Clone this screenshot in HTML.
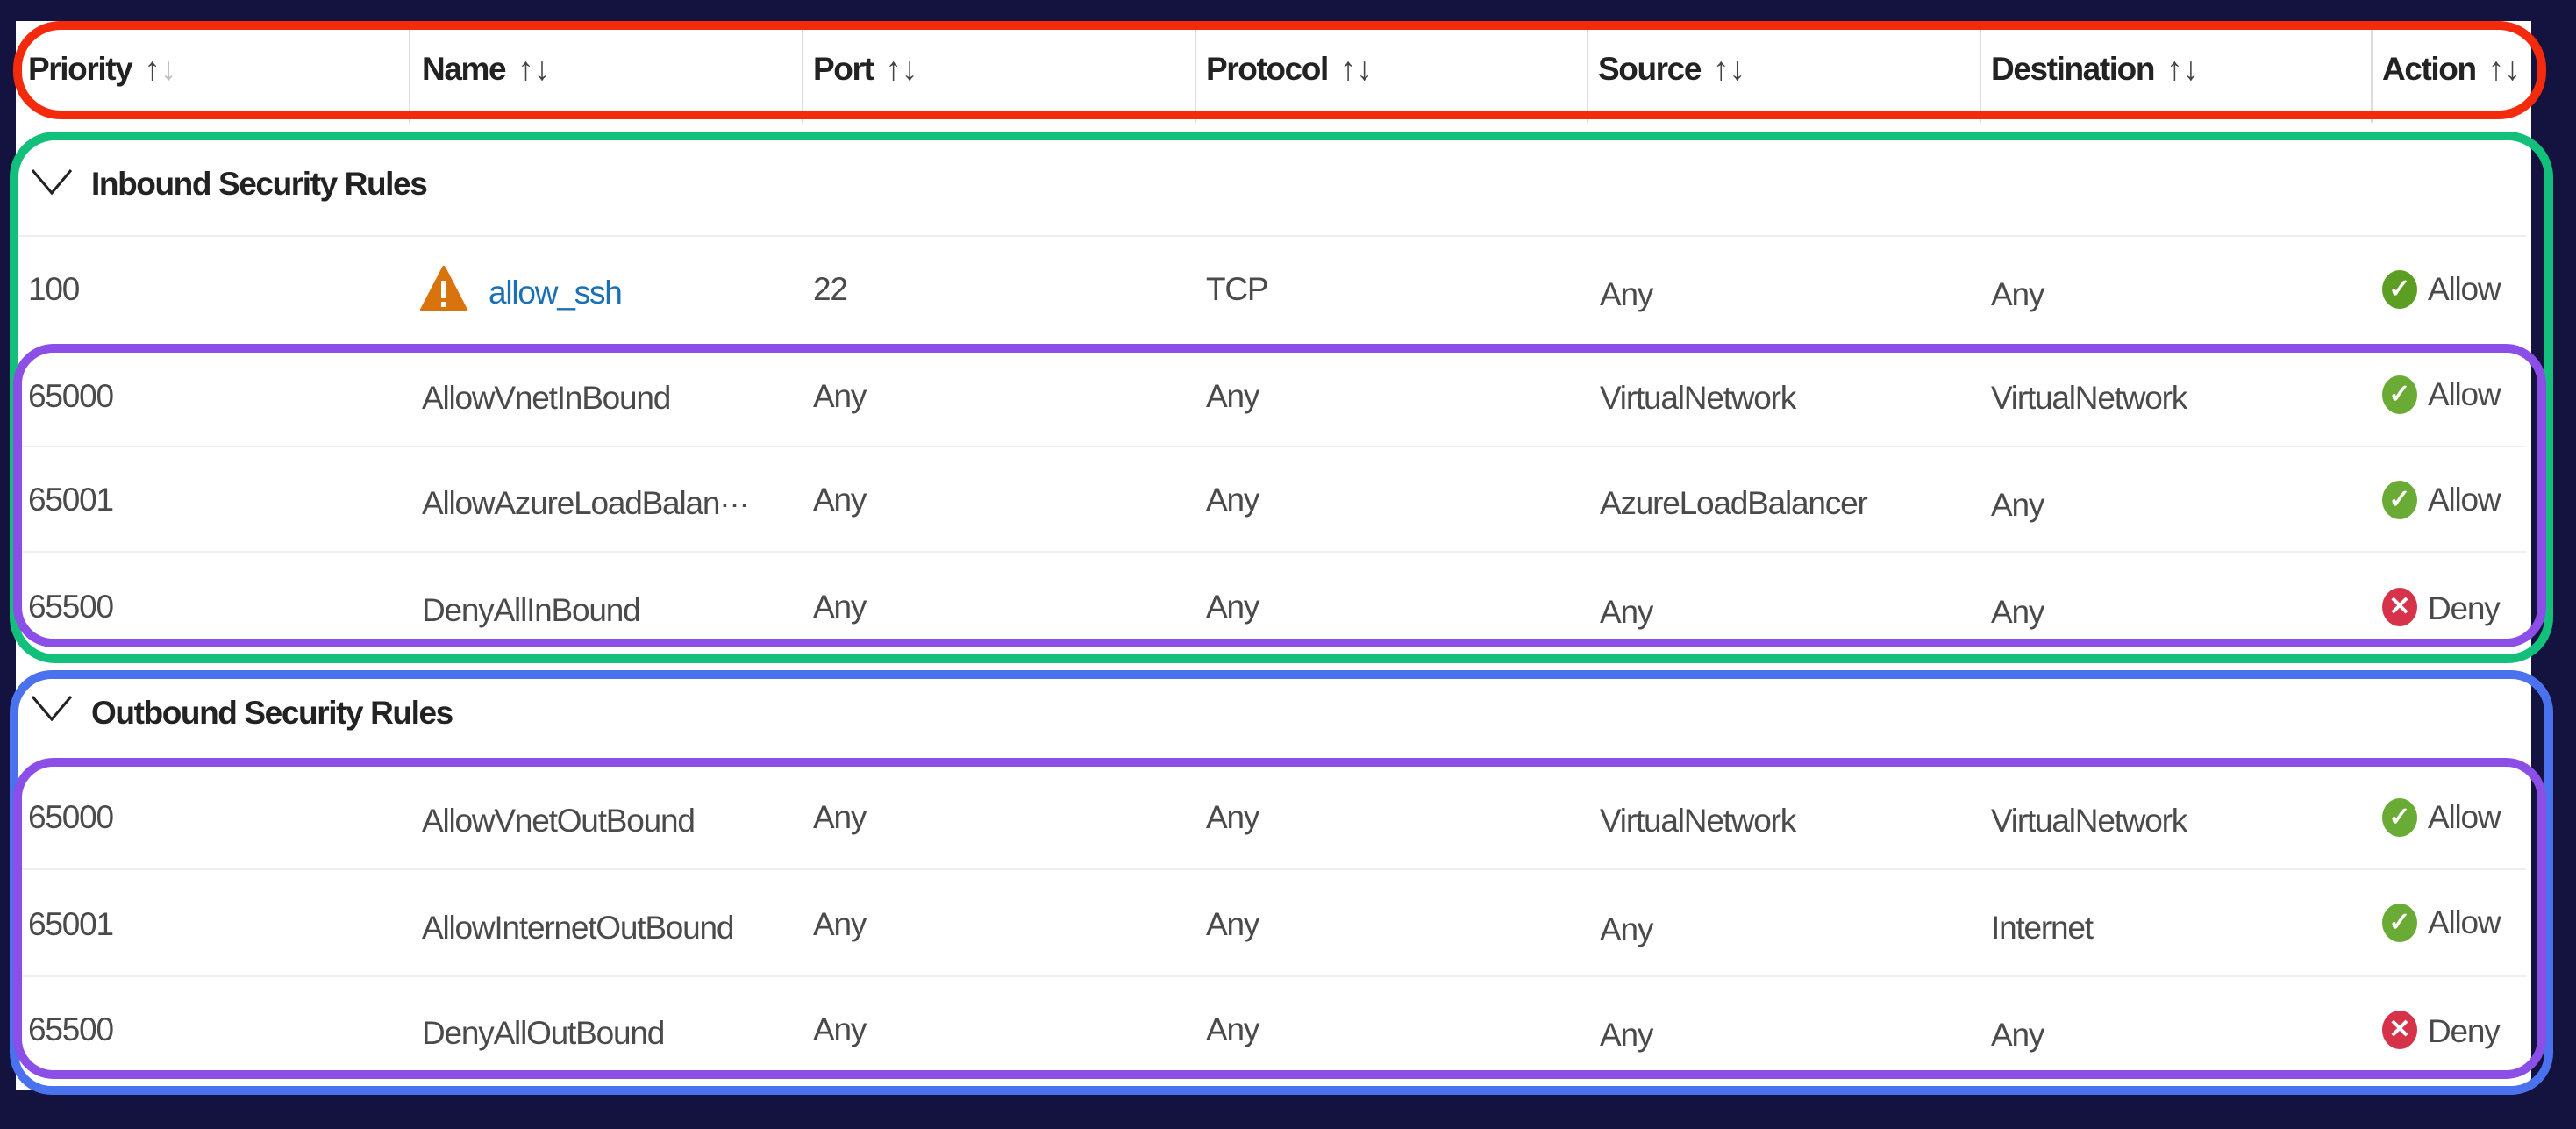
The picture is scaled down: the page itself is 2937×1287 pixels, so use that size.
<!DOCTYPE html>
<html><head><meta charset="utf-8"><style>
html,body{margin:0;padding:0}
body{width:2937px;height:1287px;background:#14123e;position:relative;overflow:hidden;font-family:"Liberation Sans",sans-serif}
.panel{position:absolute;left:18px;top:24px;width:2868px;height:1218px;background:#fff}
.box{position:absolute;box-sizing:border-box;border-style:solid}
.t{position:absolute;transform:translateY(-50%);white-space:nowrap;font-size:37px;color:#4a4a4a;letter-spacing:-1.2px}
.h{font-weight:bold;color:#222;letter-spacing:-1.4px}
.sep{position:absolute;height:2px;background:#eee;left:20px;width:2860px}
.vd{position:absolute;width:2px;background:#ddd;top:30px;height:110px}
.ic{position:absolute;width:40px;height:44px;border-radius:50%;transform:translateY(-50%);color:#fff;font-size:30px;font-weight:bold;text-align:center;line-height:44px}
.ok{background:#5c9e22}.no{background:#d6334a}
.arr{color:#444;font-weight:normal;margin-left:14px;letter-spacing:0}
</style></head><body>
<div class="panel"></div>
<div class="vd" style="left:466px"></div><div class="vd" style="left:914px"></div><div class="vd" style="left:1362px"></div><div class="vd" style="left:1809px"></div><div class="vd" style="left:2257px"></div><div class="vd" style="left:2703px"></div>
<div class="sep" style="top:268px"></div>
<div class="sep" style="top:508px"></div>
<div class="sep" style="top:628px"></div>
<div class="sep" style="top:990px"></div>
<div class="sep" style="top:1112px"></div>

<div class="box" style="left:15px;top:24px;width:2888px;height:112px;border-width:10px;border-color:#f42a0c;border-radius:54px"></div>
<div class="box" style="left:11px;top:150px;width:2900px;height:606px;border-width:10px;border-color:#12c07c;border-radius:52px"></div>
<div class="box" style="left:15px;top:392px;width:2888px;height:346px;border-width:10px;border-color:#8b4fe8;border-radius:46px"></div>
<div class="box" style="left:11px;top:764px;width:2900px;height:484px;border-width:10px;border-color:#4a72ee;border-radius:48px"></div>
<div class="box" style="left:15px;top:864px;width:2888px;height:366px;border-width:10px;border-color:#8b4fe8;border-radius:46px"></div>

<div class="t h" style="left:32px;top:79px">Priority<span class="arr">↑<span style="color:#bbb">↓</span></span></div>
<div class="t h" style="left:481px;top:79px">Name<span class="arr">↑↓</span></div>
<div class="t h" style="left:927px;top:79px">Port<span class="arr">↑↓</span></div>
<div class="t h" style="left:1375px;top:79px">Protocol<span class="arr">↑↓</span></div>
<div class="t h" style="left:1822px;top:79px">Source<span class="arr">↑↓</span></div>
<div class="t h" style="left:2270px;top:79px">Destination<span class="arr">↑↓</span></div>
<div class="t h" style="left:2716px;top:79px">Action<span class="arr">↑↓</span></div>

<svg style="position:absolute;left:34px;top:190px" width="50" height="36"><polyline points="3,4 25,30 47,4" fill="none" stroke="#222" stroke-width="3"/></svg>
<div class="t h" style="left:104px;top:210px">Inbound Security Rules</div>
<svg style="position:absolute;left:34px;top:790px" width="50" height="36"><polyline points="3,4 25,30 47,4" fill="none" stroke="#222" stroke-width="3"/></svg>
<div class="t h" style="left:104px;top:813px">Outbound Security Rules</div>

<div class="t" style="left:32px;top:330px">100</div>
<svg style="position:absolute;left:478px;top:302px" width="56" height="54"><polygon points="28,3 53,51 3,51" fill="#d9730d" stroke="#d9730d" stroke-width="4" stroke-linejoin="round"/><rect x="25" y="18" width="6" height="20" fill="#fff"/><rect x="25" y="42" width="6" height="6" fill="#fff"/></svg>
<div class="t" style="left:557px;top:334px;color:#1a6fb5">allow_ssh</div>
<div class="t" style="left:927px;top:330px">22</div>
<div class="t" style="left:1375px;top:330px">TCP</div>
<div class="t" style="left:1824px;top:336px">Any</div>
<div class="t" style="left:2270px;top:336px">Any</div>
<div class="ic ok" style="left:2716px;top:330px">✓</div>
<div class="t" style="left:2768px;top:330px">Allow</div>

<div class="t" style="left:32px;top:452px">65000</div><div class="t" style="left:481px;top:454px">AllowVnetInBound</div><div class="t" style="left:927px;top:452px">Any</div><div class="t" style="left:1375px;top:452px">Any</div><div class="t" style="left:1824px;top:454px">VirtualNetwork</div><div class="t" style="left:2270px;top:454px">VirtualNetwork</div><div class="ic ok" style="left:2716px;top:450px;background:#6aab35">✓</div><div class="t" style="left:2768px;top:450px">Allow</div>

<div class="t" style="left:32px;top:570px">65001</div><div class="t" style="left:481px;top:574px">AllowAzureLoadBalan···</div><div class="t" style="left:927px;top:570px">Any</div><div class="t" style="left:1375px;top:570px">Any</div><div class="t" style="left:1824px;top:574px">AzureLoadBalancer</div><div class="t" style="left:2270px;top:576px">Any</div><div class="ic ok" style="left:2716px;top:570px;background:#6aab35">✓</div><div class="t" style="left:2768px;top:570px">Allow</div>

<div class="t" style="left:32px;top:692px">65500</div><div class="t" style="left:481px;top:696px">DenyAllInBound</div><div class="t" style="left:927px;top:692px">Any</div><div class="t" style="left:1375px;top:692px">Any</div><div class="t" style="left:1824px;top:698px">Any</div><div class="t" style="left:2270px;top:698px">Any</div><div class="ic no" style="left:2716px;top:692px">✕</div><div class="t" style="left:2768px;top:694px">Deny</div>

<div class="t" style="left:32px;top:932px">65000</div><div class="t" style="left:481px;top:936px">AllowVnetOutBound</div><div class="t" style="left:927px;top:932px">Any</div><div class="t" style="left:1375px;top:932px">Any</div><div class="t" style="left:1824px;top:936px">VirtualNetwork</div><div class="t" style="left:2270px;top:936px">VirtualNetwork</div><div class="ic ok" style="left:2716px;top:932px;background:#6aab35">✓</div><div class="t" style="left:2768px;top:932px">Allow</div>

<div class="t" style="left:32px;top:1054px">65001</div><div class="t" style="left:481px;top:1058px">AllowInternetOutBound</div><div class="t" style="left:927px;top:1054px">Any</div><div class="t" style="left:1375px;top:1054px">Any</div><div class="t" style="left:1824px;top:1060px">Any</div><div class="t" style="left:2270px;top:1058px">Internet</div><div class="ic ok" style="left:2716px;top:1052px;background:#6aab35">✓</div><div class="t" style="left:2768px;top:1052px">Allow</div>

<div class="t" style="left:32px;top:1174px">65500</div><div class="t" style="left:481px;top:1178px">DenyAllOutBound</div><div class="t" style="left:927px;top:1174px">Any</div><div class="t" style="left:1375px;top:1174px">Any</div><div class="t" style="left:1824px;top:1180px">Any</div><div class="t" style="left:2270px;top:1180px">Any</div><div class="ic no" style="left:2716px;top:1174px">✕</div><div class="t" style="left:2768px;top:1176px">Deny</div>
</body></html>
